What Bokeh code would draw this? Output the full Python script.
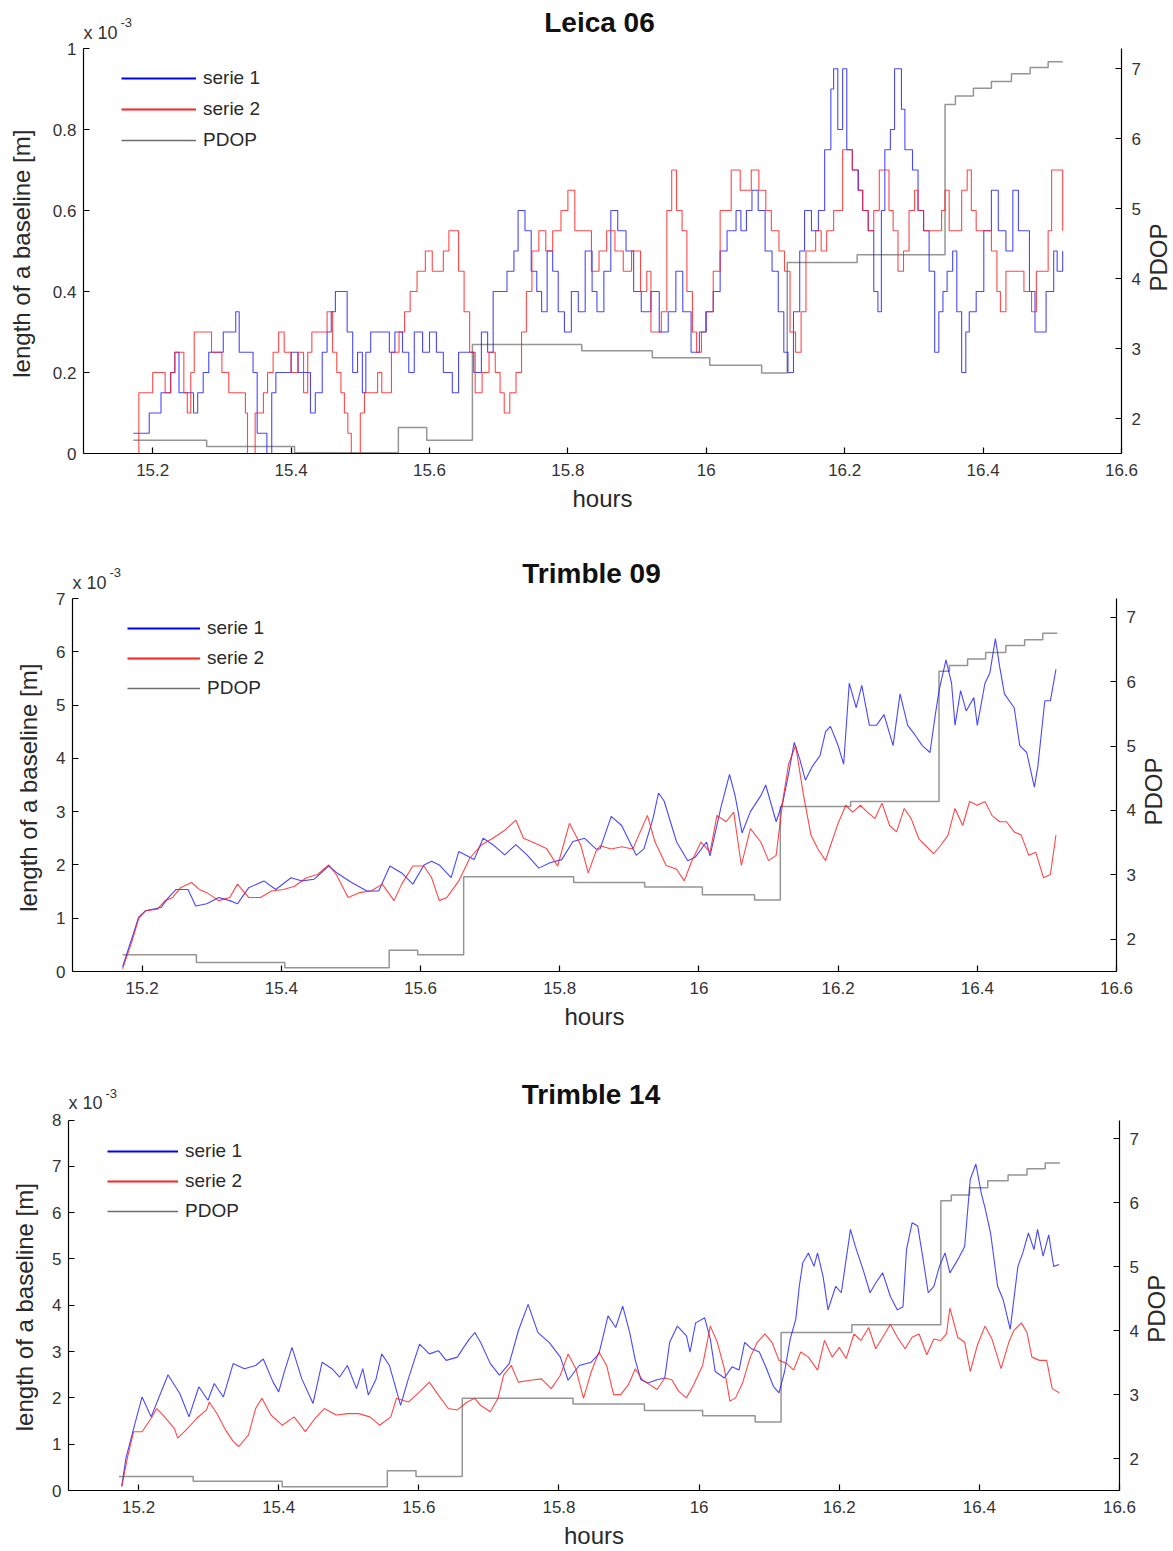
import math
from bokeh.plotting import figure
from bokeh.models import Range1d, LinearAxis, FixedTicker, NumeralTickFormatter, Legend, LegendItem, Label
from bokeh.embed import file_html
from bokeh.resources import INLINE

FONT = "Liberation Sans"
NBSP = "\u00a0"

# ---------------- data ----------------
x_ticks = [15.2, 15.4, 15.6, 15.8, 16.0, 16.2, 16.4, 16.6]
pdop_ticks = [2, 3, 4, 5, 6, 7]
pdop_min, pdop_max = 1.5, 7.29

# PDOP step times (hours) shared by all panels
pdop_t = [15.172, 15.278, 15.405, 15.555, 15.596, 15.662, 15.82, 15.922, 16.005, 16.08,
          16.117, 16.218, 16.345, 16.36, 16.386, 16.412, 16.441, 16.468, 16.494, 16.515]
pdop_leica06 = [1.69, 1.60, 1.51, 1.87, 1.69, 3.06, 2.97, 2.87, 2.76, 2.65,
                4.23, 4.34, 6.49, 6.61, 6.72, 6.82, 6.93, 7.02, 7.10, 7.10]
pdop_trimble09 = [1.76, 1.64, 1.56, 1.83, 1.76, 2.97, 2.88, 2.81, 2.69, 2.61,
                  4.06, 4.14, 6.16, 6.25, 6.35, 6.45, 6.56, 6.65, 6.75, 6.75]
pdop_trimble14 = [1.72, 1.645, 1.56, 1.81, 1.72, 2.94, 2.85, 2.75, 2.67, 2.57,
                  3.97, 4.09, 6.03, 6.12, 6.23, 6.34, 6.43, 6.53, 6.62, 6.62]

# Leica 06 (x 1e-3 m)
l06_s1_t = [15.172, 15.186, 15.195, 15.209, 15.212, 15.22, 15.226, 15.232, 15.238, 15.254, 15.259, 15.265,
            15.273, 15.281, 15.295, 15.302, 15.315, 15.32, 15.325, 15.338, 15.345, 15.351, 15.365, 15.372,
            15.378, 15.392, 15.40, 15.41, 15.42, 15.428, 15.435, 15.445, 15.452, 15.458, 15.464, 15.475,
            15.481, 15.489, 15.496, 15.503, 15.508, 15.515, 15.534, 15.542, 15.55, 15.561, 15.57, 15.578,
            15.59, 15.6, 15.61, 15.62, 15.633, 15.642, 15.664, 15.675, 15.684, 15.692, 15.712, 15.722,
            15.728, 15.738, 15.747, 15.755, 15.762, 15.77, 15.778, 15.786, 15.795, 15.805, 15.815, 15.825,
            15.835, 15.842, 15.852, 15.862, 15.872, 15.884, 15.895, 15.906, 15.92, 15.932, 15.945, 15.956,
            15.966, 15.978, 15.99, 16.0, 16.01, 16.02, 16.03, 16.043, 16.05, 16.058, 16.066, 16.075,
            16.085, 16.095, 16.104, 16.112, 16.118, 16.126, 16.135, 16.142, 16.152, 16.162, 16.171, 16.18,
            16.184, 16.19, 16.197, 16.203, 16.211, 16.22, 16.226, 16.234, 16.242, 16.248, 16.253, 16.258,
            16.266, 16.272, 16.278, 16.282, 16.287, 16.293, 16.298, 16.306, 16.314, 16.322, 16.33, 16.336,
            16.342, 16.348, 16.356, 16.362, 16.369, 16.375, 16.38, 16.39, 16.401, 16.412, 16.422, 16.433,
            16.443, 16.451, 16.459, 16.467, 16.475, 16.483, 16.491, 16.502, 16.507, 16.515]
l06_s1_v = [0.05, 0.05, 0.10, 0.10, 0.15, 0.15, 0.20, 0.25, 0.15, 0.15, 0.10, 0.15,
            0.20, 0.25, 0.25, 0.30, 0.30, 0.35, 0.25, 0.25, 0.20, 0.05, 0.00, 0.15,
            0.20, 0.20, 0.25, 0.20, 0.20, 0.10, 0.15, 0.25, 0.30, 0.35, 0.40, 0.40,
            0.30, 0.20, 0.25, 0.15, 0.25, 0.30, 0.30, 0.25, 0.30, 0.25, 0.20, 0.30,
            0.25, 0.30, 0.25, 0.20, 0.15, 0.25, 0.20, 0.30, 0.25, 0.40, 0.45, 0.50,
            0.60, 0.55, 0.45, 0.40, 0.35, 0.50, 0.45, 0.35, 0.30, 0.40, 0.35, 0.50,
            0.40, 0.35, 0.45, 0.60, 0.55, 0.50, 0.40, 0.35, 0.40, 0.30, 0.35, 0.45,
            0.35, 0.25, 0.30, 0.35, 0.40, 0.50, 0.55, 0.60, 0.55, 0.60, 0.65, 0.60,
            0.50, 0.45, 0.35, 0.25, 0.20, 0.35, 0.50, 0.60, 0.55, 0.60, 0.75, 0.90,
            0.95, 0.80, 0.95, 0.75, 0.70, 0.65, 0.60, 0.55, 0.40, 0.35, 0.60, 0.75,
            0.80, 0.95, 0.95, 0.85, 0.75, 0.75, 0.70, 0.60, 0.55, 0.45, 0.25, 0.35,
            0.40, 0.45, 0.50, 0.35, 0.20, 0.30, 0.35, 0.40, 0.55, 0.65, 0.55, 0.50,
            0.65, 0.55, 0.55, 0.40, 0.30, 0.30, 0.40, 0.50, 0.45, 0.50]
l06_s2_t = [15.176, 15.18, 15.195, 15.2, 15.212, 15.218, 15.226, 15.232, 15.242, 15.245, 15.25, 15.255,
            15.26, 15.28, 15.285, 15.296, 15.3, 15.306, 15.31, 15.33, 15.334, 15.337, 15.348, 15.36,
            15.366, 15.374, 15.382, 15.39, 15.4, 15.41, 15.418, 15.424, 15.43, 15.452, 15.46, 15.466,
            15.472, 15.477, 15.482, 15.487, 15.5, 15.506, 15.525, 15.531, 15.545, 15.556, 15.564, 15.572,
            15.582, 15.594, 15.604, 15.612, 15.62, 15.628, 15.636, 15.642, 15.65, 15.658, 15.666, 15.676,
            15.686, 15.695, 15.702, 15.708, 15.716, 15.725, 15.733, 15.74, 15.748, 15.758, 15.768, 15.778,
            15.79, 15.8, 15.81, 15.822, 15.834, 15.845, 15.856, 15.868, 15.88, 15.892, 15.905, 15.914,
            15.92, 15.935, 15.943, 15.95, 15.957, 15.965, 15.972, 15.98, 15.986, 15.993, 15.999, 16.01,
            16.02, 16.036, 16.049, 16.065, 16.076, 16.086, 16.094, 16.105, 16.113, 16.121, 16.129, 16.137,
            16.144, 16.158, 16.166, 16.174, 16.184, 16.197, 16.204, 16.211, 16.219, 16.226, 16.234, 16.242,
            16.25, 16.258, 16.264, 16.27, 16.277, 16.285, 16.293, 16.301, 16.306, 16.314, 16.322, 16.332,
            16.34, 16.345, 16.351, 16.358, 16.364, 16.369, 16.377, 16.383, 16.39, 16.398, 16.404, 16.412,
            16.42, 16.425, 16.433, 16.441, 16.449, 16.459, 16.47, 16.477, 16.486, 16.494, 16.499, 16.507,
            16.515]
l06_s2_v = [0.00, 0.15, 0.15, 0.20, 0.20, 0.15, 0.20, 0.25, 0.25, 0.15, 0.10, 0.20,
            0.30, 0.30, 0.25, 0.25, 0.20, 0.20, 0.15, 0.15, 0.10, 0.00, 0.10, 0.15,
            0.20, 0.25, 0.30, 0.25, 0.20, 0.25, 0.15, 0.25, 0.30, 0.35, 0.25, 0.20,
            0.15, 0.10, 0.05, 0.00, 0.10, 0.15, 0.20, 0.15, 0.25, 0.30, 0.35, 0.40,
            0.45, 0.50, 0.45, 0.45, 0.50, 0.55, 0.55, 0.45, 0.35, 0.25, 0.15, 0.20,
            0.25, 0.20, 0.15, 0.10, 0.15, 0.20, 0.30, 0.40, 0.50, 0.55, 0.50, 0.55,
            0.60, 0.65, 0.55, 0.55, 0.45, 0.50, 0.55, 0.50, 0.45, 0.50, 0.40, 0.45,
            0.30, 0.35, 0.60, 0.70, 0.60, 0.55, 0.40, 0.30, 0.25, 0.30, 0.35, 0.45,
            0.60, 0.70, 0.65, 0.70, 0.65, 0.60, 0.55, 0.50, 0.45, 0.30, 0.25, 0.35,
            0.50, 0.55, 0.50, 0.55, 0.60, 0.75, 0.75, 0.70, 0.65, 0.60, 0.55, 0.60,
            0.70, 0.70, 0.60, 0.55, 0.45, 0.50, 0.60, 0.65, 0.60, 0.55, 0.55, 0.55,
            0.60, 0.65, 0.55, 0.55, 0.55, 0.65, 0.70, 0.60, 0.55, 0.55, 0.55, 0.50,
            0.40, 0.35, 0.45, 0.45, 0.45, 0.40, 0.35, 0.45, 0.45, 0.55, 0.70, 0.70,
            0.55]

# Trimble 09 (x 1e-3 m)
t09_s1_t = [15.172, 15.189, 15.195, 15.205, 15.227, 15.238, 15.249, 15.266, 15.277, 15.293, 15.31, 15.326,
            15.337, 15.353, 15.375, 15.392, 15.414, 15.43, 15.447, 15.468, 15.48, 15.501, 15.523, 15.54,
            15.556, 15.573, 15.589, 15.605, 15.616, 15.627, 15.644, 15.655, 15.677, 15.69, 15.704, 15.721,
            15.737, 15.753, 15.77, 15.786, 15.803, 15.819, 15.836, 15.852, 15.858, 15.874, 15.889, 15.91,
            15.921, 15.934, 15.942, 15.95, 15.968, 15.984, 15.995, 16.011, 16.016, 16.032, 16.044, 16.052,
            16.062, 16.074, 16.089, 16.096, 16.111, 16.121, 16.129, 16.137, 16.145, 16.153, 16.163, 16.174,
            16.182, 16.189, 16.2, 16.208, 16.216, 16.226, 16.234, 16.245, 16.255, 16.266, 16.279, 16.289,
            16.3, 16.311, 16.321, 16.332, 16.339, 16.345, 16.355, 16.363, 16.368, 16.376, 16.384, 16.395,
            16.4, 16.411, 16.418, 16.426, 16.432, 16.439, 16.453, 16.461, 16.471, 16.482, 16.487, 16.497,
            16.505, 16.513]
t09_s1_v = [0.09, 0.77, 1.02, 1.14, 1.20, 1.39, 1.54, 1.54, 1.23, 1.27, 1.39, 1.33,
            1.27, 1.57, 1.70, 1.54, 1.76, 1.70, 1.73, 1.98, 1.85, 1.67, 1.51, 1.51,
            1.98, 1.85, 1.64, 2.00, 2.07, 2.00, 1.76, 2.25, 2.10, 2.50, 2.38, 2.19,
            2.38, 2.19, 1.94, 2.04, 2.10, 2.44, 2.50, 2.30, 2.30, 2.91, 2.74, 2.18,
            2.30, 2.87, 3.35, 3.20, 2.43, 2.08, 2.15, 2.43, 2.17, 3.10, 3.70, 3.30,
            2.60, 3.00, 3.30, 3.50, 2.81, 3.20, 3.72, 4.30, 3.98, 3.59, 3.85, 4.05,
            4.50, 4.60, 4.24, 3.89, 5.41, 4.95, 5.37, 4.62, 4.62, 4.82, 4.24, 5.21,
            4.62, 4.43, 4.24, 4.11, 4.76, 5.27, 5.85, 5.41, 4.62, 5.27, 4.89, 5.14,
            4.62, 5.41, 5.60, 6.25, 5.73, 5.21, 4.95, 4.24, 4.11, 3.46, 3.85, 5.08,
            5.08, 5.67]
t09_s2_t = [15.172, 15.186, 15.195, 15.205, 15.222, 15.233, 15.244, 15.255, 15.271, 15.282, 15.293, 15.31,
            15.326, 15.337, 15.353, 15.37, 15.386, 15.403, 15.419, 15.436, 15.452, 15.468, 15.479, 15.496,
            15.512, 15.529, 15.545, 15.562, 15.573, 15.589, 15.605, 15.616, 15.627, 15.638, 15.655, 15.671,
            15.688, 15.704, 15.721, 15.737, 15.748, 15.764, 15.781, 15.797, 15.814, 15.83, 15.841, 15.852,
            15.858, 15.874, 15.889, 15.905, 15.926, 15.937, 15.953, 15.968, 15.979, 15.989, 16.003, 16.016,
            16.026, 16.039, 16.05, 16.061, 16.074, 16.089, 16.1, 16.111, 16.121, 16.129, 16.139, 16.15,
            16.161, 16.171, 16.182, 16.189, 16.2, 16.211, 16.221, 16.232, 16.242, 16.253, 16.263, 16.274,
            16.284, 16.295, 16.305, 16.316, 16.326, 16.337, 16.347, 16.358, 16.368, 16.379, 16.389, 16.4,
            16.411, 16.421, 16.432, 16.442, 16.453, 16.463, 16.474, 16.484, 16.495, 16.505, 16.513]
t09_s2_v = [0.05, 0.59, 0.99, 1.14, 1.17, 1.33, 1.39, 1.57, 1.67, 1.54, 1.48, 1.33,
            1.39, 1.64, 1.39, 1.39, 1.51, 1.54, 1.60, 1.76, 1.82, 2.00, 1.82, 1.39,
            1.48, 1.51, 1.64, 1.33, 1.64, 1.98, 1.98, 1.76, 1.33, 1.39, 1.70, 2.13,
            2.38, 2.50, 2.65, 2.84, 2.50, 2.41, 2.31, 1.98, 2.78, 2.38, 1.85, 2.25,
            2.36, 2.30, 2.34, 2.30, 2.93, 2.43, 1.99, 1.92, 1.70, 2.05, 2.43, 2.24,
            2.93, 2.81, 2.99, 1.99, 2.68, 2.43, 2.08, 2.18, 3.25, 3.90, 4.24, 3.33,
            2.56, 2.30, 2.08, 2.36, 2.78, 3.12, 2.99, 3.12, 2.99, 2.87, 3.16, 2.74,
            2.62, 3.06, 2.87, 2.49, 2.36, 2.21, 2.36, 2.56, 3.06, 2.74, 3.19, 3.12,
            3.19, 2.93, 2.81, 2.81, 2.62, 2.56, 2.18, 2.24, 1.76, 1.82, 2.56]

# Trimble 14 (x 1e-3 m)
t14_s1_t = [15.176, 15.182, 15.193, 15.205, 15.218, 15.242, 15.259, 15.272, 15.286, 15.299, 15.308, 15.321,
            15.335, 15.351, 15.367, 15.378, 15.392, 15.4, 15.408, 15.419, 15.433, 15.449, 15.462, 15.476,
            15.487, 15.498, 15.511, 15.52, 15.528, 15.539, 15.547, 15.558, 15.574, 15.585, 15.601, 15.615,
            15.628, 15.639, 15.655, 15.664, 15.672, 15.68, 15.688, 15.702, 15.715, 15.729, 15.742, 15.756,
            15.77, 15.786, 15.802, 15.813, 15.829, 15.846, 15.857, 15.87, 15.881, 15.891, 15.901, 15.909,
            15.917, 15.927, 15.94, 15.951, 15.958, 15.969, 15.982, 15.987, 15.995, 16.008, 16.016, 16.023,
            16.036, 16.047, 16.057, 16.065, 16.075, 16.086, 16.096, 16.106, 16.114, 16.122, 16.13, 16.138,
            16.143, 16.148, 16.156, 16.164, 16.169, 16.177, 16.184, 16.195, 16.203, 16.216, 16.223, 16.234,
            16.244, 16.252, 16.262, 16.273, 16.283, 16.291, 16.296, 16.304, 16.312, 16.319, 16.327, 16.335,
            16.343, 16.351, 16.358, 16.369, 16.379, 16.387, 16.395, 16.403, 16.408, 16.416, 16.426, 16.434,
            16.444, 16.455, 16.462, 16.47, 16.478, 16.483, 16.491, 16.499, 16.506, 16.514]
t14_s1_v = [0.09, 0.70, 1.34, 2.02, 1.59, 2.50, 2.09, 1.59, 2.24, 1.95, 2.31, 2.02,
            2.74, 2.63, 2.70, 2.84, 2.34, 2.13, 2.56, 3.09, 2.41, 1.88, 2.77, 2.63,
            2.45, 2.70, 2.20, 2.63, 2.06, 2.41, 2.95, 2.70, 1.84, 2.41, 3.16, 2.95,
            3.02, 2.81, 2.88, 3.09, 3.27, 3.41, 3.20, 2.74, 2.49, 2.74, 3.45, 4.02,
            3.41, 3.20, 2.88, 2.38, 2.70, 2.77, 2.95, 3.77, 3.52, 3.98, 3.41, 2.81,
            2.39, 2.32, 2.39, 2.43, 3.20, 3.55, 3.34, 2.99, 3.62, 3.73, 3.27, 2.57,
            2.43, 2.67, 2.60, 3.20, 3.06, 2.99, 2.64, 2.25, 2.11, 2.57, 3.27, 3.70,
            4.41, 4.92, 5.13, 4.84, 5.13, 4.62, 3.90, 4.41, 4.27, 5.64, 5.27, 4.77,
            4.27, 4.48, 4.70, 4.19, 3.90, 3.97, 5.20, 5.78, 5.71, 5.06, 4.27, 4.41,
            4.84, 5.13, 4.70, 4.98, 5.27, 6.72, 7.05, 6.40, 6.11, 5.56, 4.41, 4.12,
            3.48, 4.84, 5.13, 5.56, 5.20, 5.64, 5.06, 5.52, 4.84, 4.88]
t14_s2_t = [15.176, 15.185, 15.193, 15.205, 15.218, 15.226, 15.237, 15.251, 15.256, 15.27, 15.283, 15.297,
            15.301, 15.313, 15.324, 15.335, 15.343, 15.357, 15.367, 15.376, 15.389, 15.405, 15.422, 15.438,
            15.452, 15.465, 15.482, 15.498, 15.514, 15.53, 15.544, 15.56, 15.568, 15.585, 15.601, 15.615,
            15.628, 15.642, 15.655, 15.669, 15.68, 15.688, 15.702, 15.713, 15.721, 15.732, 15.742, 15.759,
            15.775, 15.789, 15.802, 15.813, 15.824, 15.835, 15.846, 15.857, 15.868, 15.878, 15.888, 15.899,
            15.909, 15.919, 15.93, 15.94, 15.951, 15.961, 15.971, 15.982, 15.992, 16.005, 16.016, 16.026,
            16.036, 16.044, 16.052, 16.062, 16.073, 16.083, 16.094, 16.104, 16.114, 16.125, 16.135, 16.145,
            16.156, 16.169, 16.179, 16.19, 16.2, 16.21, 16.221, 16.231, 16.242, 16.252, 16.262, 16.273,
            16.283, 16.294, 16.304, 16.314, 16.325, 16.335, 16.345, 16.353, 16.358, 16.369, 16.379, 16.387,
            16.397, 16.408, 16.418, 16.431, 16.442, 16.449, 16.46, 16.468, 16.475, 16.486, 16.496, 16.504,
            16.514]
t14_s2_v = [0.09, 0.77, 1.27, 1.27, 1.56, 1.77, 1.59, 1.34, 1.13, 1.34, 1.56, 1.74,
            1.91, 1.63, 1.31, 1.06, 0.95, 1.20, 1.77, 1.99, 1.63, 1.41, 1.59, 1.27,
            1.56, 1.77, 1.63, 1.66, 1.66, 1.59, 1.41, 1.59, 1.99, 1.91, 2.13, 2.34,
            2.06, 1.77, 1.74, 1.91, 1.99, 1.84, 1.70, 1.99, 2.49, 2.70, 2.34, 2.38,
            2.41, 2.20, 2.49, 2.95, 2.63, 1.99, 2.56, 2.99, 2.70, 2.07, 2.07, 2.28,
            2.63, 2.39, 2.28, 2.18, 2.43, 2.39, 2.14, 2.00, 2.28, 2.70, 3.55, 3.20,
            2.63, 1.93, 2.00, 2.32, 2.88, 3.20, 3.38, 3.20, 2.81, 2.74, 2.60, 2.99,
            2.88, 2.60, 3.24, 2.88, 3.09, 2.85, 3.38, 3.24, 3.52, 3.06, 3.31, 3.59,
            3.31, 3.06, 3.31, 3.38, 2.93, 3.27, 3.24, 3.38, 3.94, 3.31, 3.20, 2.57,
            3.13, 3.55, 3.27, 2.63, 3.20, 3.45, 3.62, 3.41, 2.88, 2.81, 2.81, 2.20,
            2.11]

BLUE = "#1a1aff"
RED = "#ff1a1a"
GREY = "#8a8a8a"
TXT = "#2a2a2a"


def style_axis(ax, ticks, tick_standoff, label_standoff):
    ax.ticker = FixedTicker(ticks=ticks)
    ax.formatter = NumeralTickFormatter(format="0.[0]")
    ax.major_tick_in = 6
    ax.major_tick_out = 0
    ax.minor_tick_line_color = None
    ax.axis_line_color = "black"
    ax.axis_line_width = 1.2
    ax.major_tick_line_color = "black"
    ax.major_tick_line_width = 1.2
    ax.major_label_text_font = FONT
    ax.major_label_text_font_size = "17px"
    ax.major_label_text_color = "#333333"
    ax.major_label_standoff = tick_standoff
    ax.axis_label_text_font = FONT
    ax.axis_label_text_font_size = "24px"
    ax.axis_label_text_font_style = "normal"
    ax.axis_label_text_color = TXT
    ax.axis_label_standoff = label_standoff


def make_panel(title, ymax, yticks, s1t, s1v, s2t, s2v, pdop_lv, height, pad, axis_px,
               left, right, leg_x, leg_gap, leg_spacing, glyph_w, yl_standoff,
               title_dy, exp_dy, n_shift, pdop_lab_px, stepped):
    frame_h = pad + axis_px
    y_top = ymax + pad * ymax / axis_px
    pdop_span = pdop_max - pdop_min
    pdop_top = pdop_max + pad * pdop_span / axis_px
    p = figure(width=1173, height=height, x_range=Range1d(15.1, 16.6), y_range=Range1d(0, y_top),
               output_backend="svg", toolbar_location=None,
               min_border_top=0, min_border_left=left, min_border_right=1173 - right,
               min_border_bottom=height - frame_h)
    p.extra_y_ranges = {"pdop": Range1d(pdop_min, pdop_top)}
    p.xgrid.visible = False
    p.ygrid.visible = False
    p.outline_line_color = None
    p.background_fill_color = "white"
    p.border_fill_color = "white"

    style_axis(p.xaxis[0], x_ticks, 10, 6)
    p.xaxis[0].axis_label = "hours"
    style_axis(p.yaxis[0], yticks, 7, yl_standoff)
    # trailing no-break spaces centre the label on the bounded axis instead of the taller frame
    p.yaxis[0].axis_label = "length of a baseline [m]" + NBSP * n_shift
    p.yaxis[0].bounds = (0, ymax)

    ax_r = LinearAxis(y_range_name="pdop")
    style_axis(ax_r, pdop_ticks, 10, 7)
    ax_r.bounds = (pdop_min, pdop_max)
    p.add_layout(ax_r, "right")

    # "PDOP" title of the right axis, written bottom-to-top like the reference
    lab_val = pdop_min + pdop_lab_px * pdop_span / axis_px
    p.add_layout(Label(x=16.6, y=lab_val, y_range_name="pdop", text="PDOP", x_offset=37,
                       angle=math.pi / 2, text_align="center", text_baseline="middle",
                       text_font=FONT, text_font_size="24px", text_color=TXT), "right")

    p.step(pdop_t, pdop_lv, mode="after", y_range_name="pdop",
           line_color=GREY, line_width=1.5, line_alpha=0.9)
    if stepped:
        p.step(s1t, s1v, mode="after", line_color=BLUE, line_width=1.1, line_alpha=0.8)
        p.step(s2t, s2v, mode="after", line_color=RED, line_width=1.1, line_alpha=0.8)
    else:
        p.line(s1t, s1v, line_color=BLUE, line_width=1.1, line_alpha=0.8)
        p.line(s2t, s2v, line_color=RED, line_width=1.1, line_alpha=0.8)

    # legend swatches only (no visible data)
    nan2 = [math.nan, math.nan]
    g1 = p.line(nan2, nan2, line_color="#0000ff", line_width=2)
    g2 = p.line(nan2, nan2, line_color="#ff2020", line_width=2)
    g3 = p.line(nan2, nan2, line_color="#6e6e6e", line_width=1.5)

    row_h = 22
    leg_h = 3 * row_h + 2 * leg_spacing
    legend = Legend(items=[LegendItem(label="serie 1", renderers=[g1]),
                           LegendItem(label="serie 2", renderers=[g2]),
                           LegendItem(label="PDOP", renderers=[g3])],
                    location=(leg_x, frame_h - pad - leg_gap - leg_h),
                    glyph_width=glyph_w, glyph_height=20, label_height=20,
                    spacing=leg_spacing, padding=0, margin=0, label_standoff=7,
                    border_line_color=None, background_fill_alpha=0,
                    label_text_font=FONT, label_text_font_size="19px",
                    label_text_color=TXT)
    p.add_layout(legend)

    p.add_layout(Label(x=15.85, y=ymax, text=title, x_offset=-3, y_offset=title_dy,
                       text_align="center", text_baseline="middle", text_font=FONT,
                       text_font_size="28px", text_font_style="bold", text_color="#111111"))
    p.add_layout(Label(x=15.1, y=ymax, text="x 10", x_offset=0, y_offset=exp_dy,
                       text_baseline="middle", text_font=FONT, text_font_size="18px",
                       text_color="#333333"))
    p.add_layout(Label(x=15.1, y=ymax, text="-3", x_offset=37, y_offset=exp_dy + 10,
                       text_baseline="middle", text_font=FONT, text_font_size="13px",
                       text_color="#333333"))
    return p


p1 = make_panel("Leica 06", 1.0, [0, 0.2, 0.4, 0.6, 0.8, 1.0], l06_s1_t, l06_s1_v, l06_s2_t, l06_s2_v,
                pdop_leica06, height=530, pad=48, axis_px=405, left=83, right=1121,
                leg_x=38, leg_gap=19, leg_spacing=9, glyph_w=75, yl_standoff=15,
                title_dy=26, exp_dy=16, n_shift=8, pdop_lab_px=196, stepped=True)
p2 = make_panel("Trimble 09", 7, [0, 1, 2, 3, 4, 5, 6, 7], t09_s1_t, t09_s1_v, t09_s2_t, t09_s2_v,
                pdop_trimble09, height=520, pad=68, axis_px=373, left=72, right=1116,
                leg_x=55, leg_gap=19, leg_spacing=8, glyph_w=73, yl_standoff=11,
                title_dy=25, exp_dy=16, n_shift=11, pdop_lab_px=180, stepped=False)
p3 = make_panel("Trimble 14", 8, [0, 1, 2, 3, 4, 5, 6, 7, 8], t14_s1_t, t14_s1_v, t14_s2_t, t14_s2_v,
                pdop_trimble14, height=501, pad=70, axis_px=373, left=68, right=1119,
                leg_x=39, leg_gap=23, leg_spacing=8, glyph_w=71, yl_standoff=11,
                title_dy=26, exp_dy=17, n_shift=11, pdop_lab_px=183, stepped=False)

open("out.html", "w").write(file_html([p1, p2, p3], INLINE))
